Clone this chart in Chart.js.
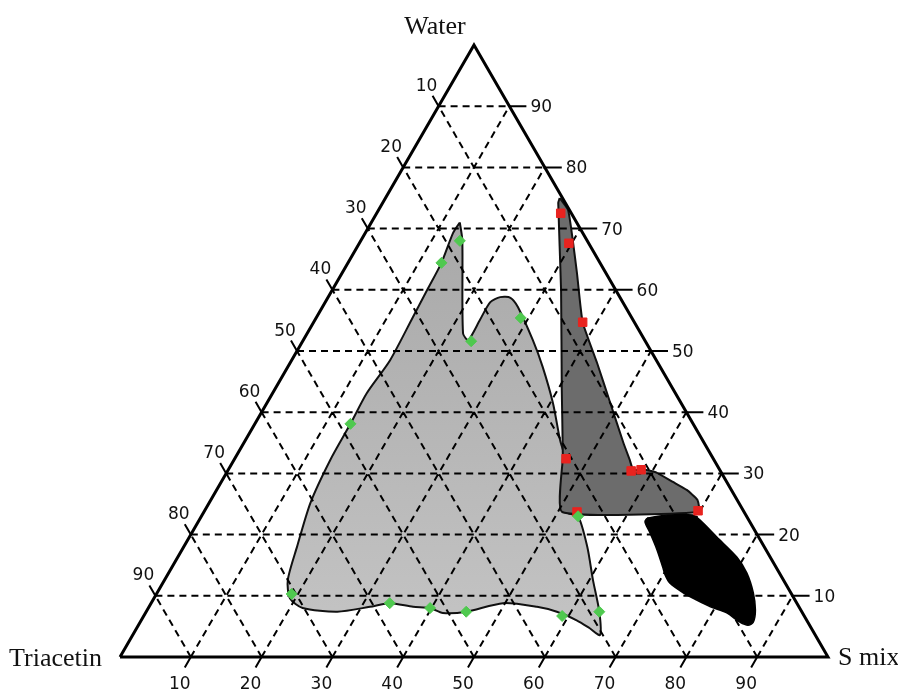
<!DOCTYPE html>
<html lang="en">
<head>
    <meta charset="UTF-8">
    <title>Ternary phase diagram - Water / Triacetin / S mix</title>
    <script src="https://cdn.jsdelivr.net/npm/chart.js"></script>
    <style>
        body { margin: 0; background: #fff; }
        #wrap { width: 898px; height: 691px; }
    </style>
</head>
<body>
    <div id="wrap"><canvas id="myChart"></canvas></div>

    <script>
        // component names at the three corners
        const apexLabel = 'Water';
        const leftLabel = 'Triacetin';
        const rightLabel = 'S mix';

        // grid / tick values in %
        const tickValues = [10, 20, 30, 40, 50, 60, 70, 80, 90];

        // regions as [S mix %, Water %] (Triacetin is the rest)
        const lightRegion = [
            [12.5, 71], [14.3, 68.1], [22, 52.9], [23.3, 51.8], [23.3, 55.1], [23.3, 58],
            [24.3, 58.8], [25.8, 58.7], [27.6, 57.2], [32.4, 51.8], [36, 47.4], [40.4, 41.5],
            [44.4, 35.5], [46.8, 32.2], [51.2, 23.7], [53.2, 23], [57, 18], [60.5, 12.6],
            [64, 7.4], [66, 3.6], [64, 4.7], [61.5, 6], [58, 7.4], [54.8, 8.2], [49.7, 8.8],
            [45.2, 7.4], [42, 7.2], [39.8, 8], [37.3, 8.2], [33.7, 8.8], [31.2, 8.2], [27, 7.4],
            [21.8, 8], [19.2, 9.6], [17.4, 12.6], [16, 18], [14.3, 25.2], [13.6, 32.2],
            [13.5, 38.1], [13.3, 43.1], [13.9, 48.5], [13.6, 55.6], [13.4, 60], [13.2, 64.4],
            [12.4, 69.3]
        ];
        const darkRegion = [
            [24.6, 75], [26.8, 73], [29.9, 68.1], [33.2, 62.7], [38, 54.7], [43.4, 48],
            [48.5, 41.5], [53.6, 35], [55.9, 32.2], [57.2, 30.6], [58.9, 30.6], [60.8, 30.1],
            [63.8, 28.6], [66.4, 27.3], [68.7, 25.7], [69.9, 23.7], [50.6, 23.7], [46.2, 32.7],
            [40.6, 43.6], [32.3, 60], [24.8, 74.2]
        ];
        const blackRegion = [
            [63.1, 22.7], [65.7, 23.2], [69.3, 23.2], [70.7, 22.4], [74.5, 19.6], [79, 16.3],
            [81.7, 13.7], [84.2, 10.5], [85.9, 7.7], [86.6, 5.7], [86.1, 5.2], [84.7, 5.7],
            [82.1, 7.2], [79.3, 8.2], [76.8, 9.3], [74.3, 10.5], [71.6, 12.1], [70.3, 13.4],
            [69.3, 14.7], [67.1, 17.5], [64.7, 20.3], [63.1, 22.1]
        ];
        const greenPoints = [
            [14, 68], [13.2, 64.4], [23.8, 51.6], [28.9, 55.4], [13.5, 38.1], [19.1, 10.3],
            [33.7, 8.8], [39.8, 8], [45.2, 7.4], [59.1, 6.7], [64, 7.4], [53.2, 23]
        ];
        const redPoints = [
            [26, 72.5], [29.6, 67.6], [38, 54.7], [46.8, 32.4], [57, 30.4], [58.3, 30.6],
            [69.7, 23.9], [52.7, 23.7]
        ];

        // ternary -> cartesian (side = 100)
        const H = Math.sqrt(3) / 2;
        const tern = p => ({ x: p[0] + p[1] / 2, y: p[1] * H });
        const closed = arr => arr.concat([arr[0]]).map(tern);
        const gap = { x: null, y: null };

        // tick ends (in cartesian units)
        const rightTick = v => { const b = tern([100 - v, v]); return { x: b.x + 2.4, y: b.y }; };
        const leftTick = v => { const b = tern([0, 100 - v]); return { x: b.x - 0.85, y: b.y + 1.47 }; };
        const bottomTick = v => { const b = tern([v, 0]); return { x: b.x - 0.85, y: b.y - 1.47 }; };

        const gridData = [];
        const tickData = [];
        tickValues.forEach(v => {
            gridData.push(tern([0, v]), tern([100 - v, v]), gap);
            gridData.push(tern([v, 0]), tern([v, 100 - v]), gap);
            gridData.push(tern([100 - v, 0]), tern([0, 100 - v]), gap);
            tickData.push(tern([100 - v, v]), rightTick(v), gap);
            tickData.push(tern([0, 100 - v]), leftTick(v), gap);
            tickData.push(tern([v, 0]), bottomTick(v), gap);
        });

        const labelPlugin = {
            id: 'ternLabels',
            afterDatasetsDraw(chart) {
                const { ctx, scales: { x, y } } = chart;
                const px = p => [x.getPixelForValue(p.x), y.getPixelForValue(p.y)];
                ctx.save();
                ctx.fillStyle = '#111';
                ctx.textBaseline = 'alphabetic';
                ctx.font = '17px "DejaVu Sans"';
                tickValues.forEach(v => {
                    let [a, b] = px(rightTick(v));
                    ctx.textAlign = 'left';
                    ctx.fillText(String(v), a + 4, b + 6);
                    [a, b] = px(leftTick(v));
                    ctx.textAlign = 'center';
                    ctx.fillText(String(v), a - 6, b - 5);
                    [a, b] = px(bottomTick(v));
                    ctx.fillText(String(v), a - 5, b + 22);
                });
                ctx.font = '26px "Liberation Serif"';
                let [a, b] = px(tern([0, 100]));
                ctx.textAlign = 'center';
                ctx.fillText(apexLabel, a - 39, b - 11);
                [a, b] = px(tern([0, 0]));
                ctx.textAlign = 'right';
                ctx.fillText(leftLabel, a - 18, b + 9);
                [a, b] = px(tern([100, 0]));
                ctx.textAlign = 'left';
                ctx.fillText(rightLabel, a + 10, b + 8);
                ctx.restore();
            }
        };

        const lightFill = context => {
            const chart = context.chart;
            if (!chart.chartArea) return '#b4b4b4';
            const ys = chart.scales.y;
            const g = chart.ctx.createLinearGradient(0, ys.getPixelForValue(72 * H), 0, ys.getPixelForValue(3 * H));
            g.addColorStop(0, '#a8a8a8');
            g.addColorStop(1, '#c4c4c4');
            return g;
        };

        const ctx = document.getElementById('myChart').getContext('2d');
        const myChart = new Chart(ctx, {
            type: 'scatter',
            data: {
                datasets: [
                    {
                        label: 'Formulation (green)',
                        data: greenPoints.map(tern),
                        pointStyle: 'rectRot',
                        pointRadius: 5.5,
                        backgroundColor: '#4fc94f',
                        borderColor: '#4fc94f',
                        order: 0
                    },
                    {
                        label: 'Formulation (red)',
                        data: redPoints.map(tern),
                        pointStyle: 'rect',
                        pointRadius: 6,
                        backgroundColor: '#e8231f',
                        borderColor: '#e8231f',
                        order: 0
                    },
                    {
                        label: 'triangle',
                        data: closed([[0, 0], [100, 0], [0, 100]]),
                        showLine: true,
                        pointRadius: 0,
                        borderColor: '#000',
                        borderWidth: 3,
                        order: 1
                    },
                    {
                        label: 'ticks',
                        data: tickData,
                        showLine: true,
                        pointRadius: 0,
                        borderColor: '#000',
                        borderWidth: 2,
                        order: 2
                    },
                    {
                        label: 'grid',
                        data: gridData,
                        showLine: true,
                        pointRadius: 0,
                        borderColor: '#000',
                        borderWidth: 2,
                        borderDash: [7, 5],
                        order: 3
                    },
                    {
                        label: 'region 3',
                        data: closed(blackRegion),
                        showLine: true,
                        fill: 'shape',
                        tension: 0.3,
                        pointRadius: 0,
                        backgroundColor: '#000',
                        borderColor: '#000',
                        borderWidth: 1.5,
                        order: 4
                    },
                    {
                        label: 'region 2',
                        data: closed(darkRegion),
                        showLine: true,
                        fill: 'shape',
                        tension: 0.15,
                        pointRadius: 0,
                        backgroundColor: '#6c6c6c',
                        borderColor: '#111',
                        borderWidth: 2,
                        order: 5
                    },
                    {
                        label: 'region 1',
                        data: closed(lightRegion),
                        showLine: true,
                        fill: 'shape',
                        tension: 0.25,
                        pointRadius: 0,
                        backgroundColor: lightFill,
                        borderColor: '#111',
                        borderWidth: 2,
                        order: 6
                    }
                ]
            },
            options: {
                responsive: true,
                maintainAspectRatio: false,
                animation: false,
                layout: { padding: 0, autoPadding: false },
                plugins: {
                    legend: { display: false },
                    tooltip: { enabled: false }
                },
                scales: {
                    x: { type: 'linear', min: -16.95, max: 109.89, display: false },
                    y: { type: 'linear', min: -4.81, max: 92.97, display: false }
                }
            },
            plugins: [labelPlugin]
        });
    </script>
</body>
</html>
